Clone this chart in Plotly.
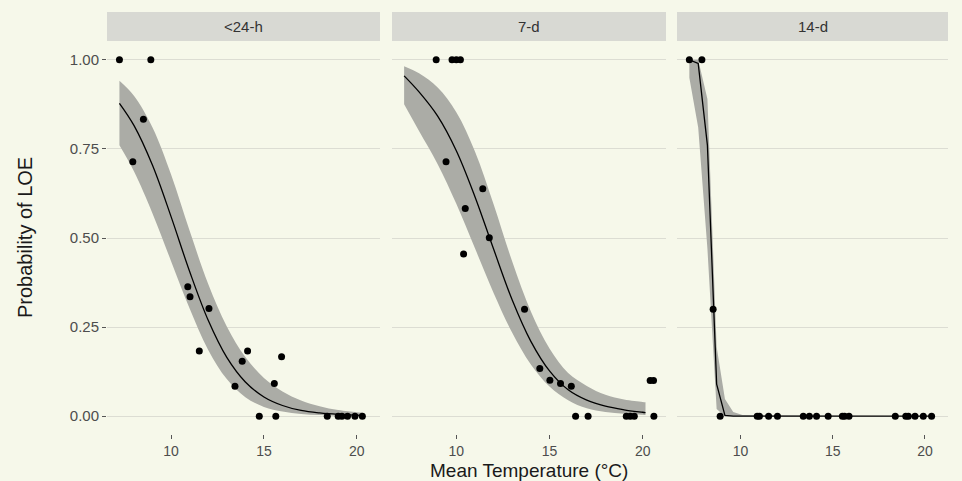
import plotly.graph_objects as go

# ---------------- data ----------------
panels = ["<24-h", "7-d", "14-d"]

temp_24h = [7.22, 7.94, 8.51, 8.91, 10.90, 11.02, 11.52, 12.04, 13.44, 13.83, 14.12,
            14.75, 15.56, 15.64, 15.95, 18.41, 19.00, 19.20, 19.50, 19.90, 20.30]
prob_24h = [1.00, 0.714, 0.833, 1.00, 0.363, 0.335, 0.183, 0.302, 0.084, 0.154, 0.183,
            0.00, 0.092, 0.00, 0.167, 0.00, 0.00, 0.00, 0.00, 0.00, 0.00]

temp_7d = [8.92, 9.45, 9.77, 10.00, 10.22, 10.39, 10.48, 11.42, 11.77, 13.66, 14.48,
           15.02, 15.59, 16.17, 16.40, 17.07, 19.12, 19.33, 19.55, 20.40, 20.58, 20.60]
prob_7d = [1.00, 0.714, 1.00, 1.00, 1.00, 0.455, 0.583, 0.638, 0.501, 0.300, 0.134,
           0.101, 0.092, 0.084, 0.00, 0.00, 0.00, 0.00, 0.00, 0.10, 0.10, 0.00]

temp_14d = [7.22, 7.90, 8.51, 8.89, 10.90, 11.02, 11.52, 12.00, 13.40, 13.73, 14.12,
            14.75, 15.52, 15.64, 15.88, 18.39, 18.96, 19.10, 19.46, 19.91, 20.36]
prob_14d = [1.00, 1.00, 0.30, 0.00, 0.00, 0.00, 0.00, 0.00, 0.00, 0.00, 0.00,
            0.00, 0.00, 0.00, 0.00, 0.00, 0.00, 0.00, 0.00, 0.00, 0.00]

# fitted curves with confidence band
fit_x_24h = [7.22, 8, 9, 10, 11, 12, 13, 14, 15, 16, 17, 18, 19, 20, 20.3]
fit_24h = [0.878, 0.816, 0.704, 0.560, 0.406, 0.269, 0.165, 0.096, 0.054, 0.030,
           0.016, 0.009, 0.005, 0.003, 0.002]
upr_24h = [0.941, 0.899, 0.810, 0.678, 0.520, 0.371, 0.252, 0.166, 0.107, 0.069,
           0.044, 0.028, 0.017, 0.011, 0.010]
lwr_24h = [0.760, 0.687, 0.569, 0.435, 0.302, 0.186, 0.104, 0.053, 0.026, 0.013,
           0.006, 0.003, 0.001, 0.001, 0.0005]

fit_x_7d = [7.2, 8, 9, 10, 11, 12, 13, 14, 15, 16, 17, 18, 19, 20, 20.15]
fit_7d = [0.955, 0.910, 0.842, 0.745, 0.616, 0.469, 0.326, 0.210, 0.127, 0.074,
          0.045, 0.028, 0.018, 0.011, 0.010]
upr_7d = [0.982, 0.962, 0.922, 0.853, 0.743, 0.595, 0.434, 0.294, 0.190, 0.121,
          0.085, 0.060, 0.047, 0.040, 0.039]
lwr_7d = [0.875, 0.800, 0.707, 0.596, 0.471, 0.346, 0.234, 0.145, 0.083, 0.045,
          0.022, 0.012, 0.007, 0.004, 0.003]

fit_x_14d = [7.22, 7.7, 8.2, 8.7, 9.15, 9.6, 10.1, 20.3]
fit_14d = [1.00, 0.99, 0.76, 0.09, 0.002, 0.0, 0.0, 0.0]
upr_14d = [1.00, 1.00, 0.89, 0.195, 0.048, 0.012, 0.003, 0.0]
lwr_14d = [0.95, 0.81, 0.47, 0.02, 0.0, 0.0, 0.0, 0.0]

x_ticks = [10, 15, 20]
y_ticks = [0, 0.25, 0.5, 0.75, 1.0]
y_ticklabels = ["0.00", "0.25", "0.50", "0.75", "1.00"]

# ---------------- styling ----------------
BG = "#F6F8EA"
GRID = "#DCDDD3"
BAND = "#ABACA6"
STRIP = "#D8D9D3"
FONT = "Liberation Sans, Arial, sans-serif"

W, H = 962, 481
ML, MR, MT, MB = 107, 14, 12, 47
PW = W - ML - MR
PH = H - MT - MB

def px_x(p):
    return (p - ML) / PW

domains = [[0.0, px_x(380)], [px_x(392), px_x(666)], [px_x(677), 1.0]]
ytop = (H - MB - 42) / PH

fig = go.Figure()

series = [
    (temp_24h, prob_24h, fit_x_24h, fit_24h, upr_24h, lwr_24h, "spline"),
    (temp_7d, prob_7d, fit_x_7d, fit_7d, upr_7d, lwr_7d, "spline"),
    (temp_14d, prob_14d, fit_x_14d, fit_14d, upr_14d, lwr_14d, "linear"),
]

for i, (tx, py, fx, fy, up, lo, shp) in enumerate(series):
    xa = "x" if i == 0 else f"x{i+1}"
    ya = "y" if i == 0 else f"y{i+1}"
    fig.add_trace(go.Scatter(x=fx, y=up, mode="lines", line=dict(width=0, shape=shp),
                             xaxis=xa, yaxis=ya, showlegend=False, hoverinfo="skip"))
    fig.add_trace(go.Scatter(x=fx, y=lo, mode="lines", line=dict(width=0, shape=shp),
                             fill="tonexty", fillcolor=BAND,
                             xaxis=xa, yaxis=ya, showlegend=False, hoverinfo="skip"))
    fig.add_trace(go.Scatter(x=fx, y=fy, mode="lines", line=dict(color="black", width=1.3, shape=shp),
                             xaxis=xa, yaxis=ya, showlegend=False))
    fig.add_trace(go.Scatter(x=tx, y=py, mode="markers",
                             marker=dict(color="black", size=7),
                             xaxis=xa, yaxis=ya, showlegend=False))

layout = dict(
    width=W, height=H,
    margin=dict(l=ML, r=MR, t=MT, b=MB),
    paper_bgcolor=BG, plot_bgcolor=BG,
    font=dict(family=FONT, color="#4D4D4D", size=14),
    showlegend=False,
)

for i in range(3):
    xk = "xaxis" if i == 0 else f"xaxis{i+1}"
    yk = "yaxis" if i == 0 else f"yaxis{i+1}"
    layout[xk] = dict(domain=domains[i], range=[6.55, 21.25], tickvals=x_ticks,
                      ticks="outside", ticklen=4, tickcolor="#555555", tickwidth=1,
                      showgrid=False, zeroline=False, showline=False,
                      anchor="y" if i == 0 else f"y{i+1}",
                      tickfont=dict(size=14, color="#4D4D4D"))
    layout[yk] = dict(domain=[0, ytop], range=[-0.05, 1.05], tickvals=y_ticks,
                      ticktext=y_ticklabels,
                      showticklabels=(i == 0),
                      ticks="outside" if i == 0 else "", ticklen=4, tickcolor="#555555",
                      showgrid=True, gridcolor=GRID, gridwidth=1,
                      zeroline=False, showline=False,
                      anchor="x" if i == 0 else f"x{i+1}",
                      tickfont=dict(size=15, color="#4D4D4D"))

fig.update_layout(**layout)

shapes = []
annotations = []
ys0 = (H - MB - 41) / PH
for i, name in enumerate(panels):
    shapes.append(dict(type="rect", xref="paper", yref="paper",
                       x0=domains[i][0], x1=domains[i][1], y0=ys0, y1=1.0,
                       fillcolor=STRIP, line=dict(width=0), layer="below"))
    annotations.append(dict(text=name, xref="paper", yref="paper",
                            x=(domains[i][0] + domains[i][1]) / 2, y=(ys0 + 1.0) / 2,
                            showarrow=False, xanchor="center", yanchor="middle",
                            font=dict(size=15, color="#333333", family=FONT)))

annotations.append(dict(text="Probability of LOE", xref="paper", yref="paper",
                        x=px_x(25), y=(H - MB - 238) / PH, textangle=-90,
                        showarrow=False, xanchor="center", yanchor="middle",
                        font=dict(size=20, color="#1A1A1A", family=FONT)))
annotations.append(dict(text="Mean Temperature (°C)", xref="paper", yref="paper",
                        x=px_x(529), y=(H - MB - 470) / PH,
                        showarrow=False, xanchor="center", yanchor="middle",
                        font=dict(size=19, color="#1A1A1A", family=FONT)))

fig.update_layout(shapes=shapes, annotations=annotations)

fig.write_html("out.html", config={"displayModeBar": False},
               post_script="document.body.style.margin='0px';document.body.style.background='" + BG + "';")
